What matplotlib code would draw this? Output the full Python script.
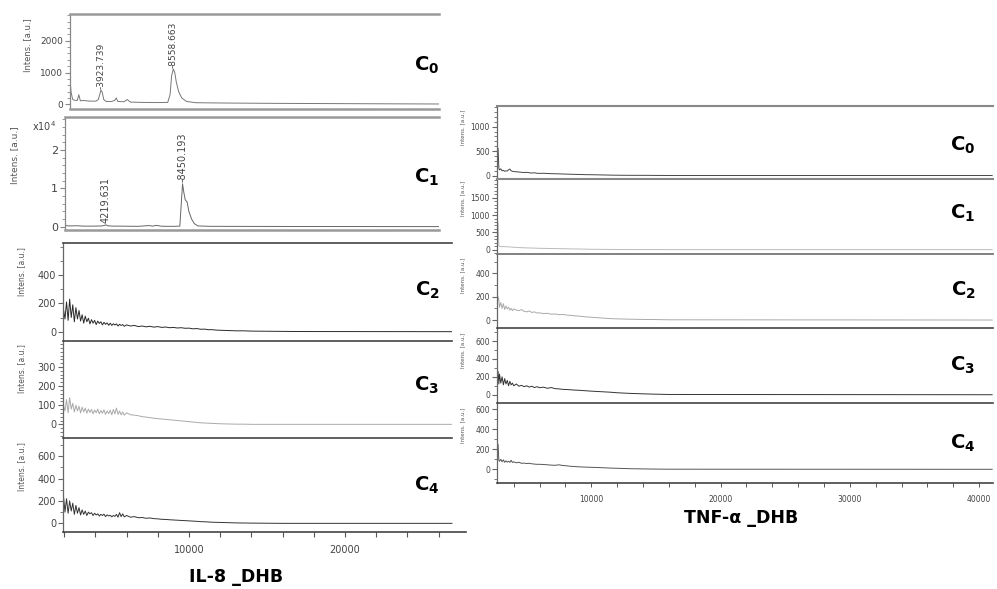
##############################################################################################
# MALDI spectra of IL-8 and TNF-alpha (DHB matrix), five concentrations each
import matplotlib
matplotlib.use('Agg')
import matplotlib.pyplot as plt
from matplotlib.ticker import MultipleLocator, FuncFormatter

##############################################################################################
# Data (m/z, intensity in a.u.)

# IL-8 C0 spectrum
il8_c0_mz = [1936, 2000, 2100, 2200, 2400, 2500, 2600, 2800, 3200, 3600,
             3750, 3850, 3923, 4000, 4100, 4250, 4600, 4800, 4900, 5000,
             5400, 5600, 5800, 6500, 7500, 8200, 8350, 8450, 8558, 8650,
             8750, 8900, 9100, 9400, 10000, 12000, 15000, 20000, 25590]
il8_c0 = [830, 400, 160, 130, 120, 300, 110, 120, 100, 100,
          150, 320, 450, 380, 150, 90, 90, 120, 200, 90,
          80, 150, 70, 60, 55, 60, 300, 900, 1110, 1000,
          700, 400, 200, 90, 50, 40, 30, 20, 10]

# IL-8 C1 spectrum
il8_c1_mz = [1956, 2200, 2600, 3000, 3500, 4000, 4150, 4219, 4300, 4600,
             5000, 5500, 6000, 6600, 6800, 7000, 7300, 7600, 8000, 8300,
             8380, 8450, 8520, 8600, 8700, 8800, 8950, 9100, 9300, 10000,
             12000, 16000, 22620]
il8_c1 = [300, 200, 250, 150, 150, 200, 350, 500, 250, 150,
          150, 120, 100, 300, 150, 350, 120, 100, 100, 150,
          6000, 11200, 9000, 7000, 6500, 4000, 2000, 800, 200, 100,
          80, 50, 30]

# IL-8 C2..C4 share one m/z grid
il8_mz = [1950, 2050, 2150, 2250, 2350, 2450, 2550, 2650, 2750, 2850,
          2950, 3050, 3150, 3250, 3350, 3450, 3550, 3650, 3750, 3850,
          3950, 4050, 4150, 4250, 4350, 4450, 4550, 4650, 4750, 4850,
          4950, 5050, 5150, 5250, 5350, 5450, 5550, 5650, 5750, 5850,
          6000, 6250, 6500, 6750, 7000, 7250, 7500, 7750, 8000, 8250,
          8500, 8750, 9000, 9250, 9500, 9750, 10000, 10250, 10500, 10750,
          11000, 11250, 11500, 11750, 12000, 12500, 13000, 13500, 14000, 15000,
          16000, 17000, 26860]
il8_c2 = [160, 90, 210, 80, 230, 100, 190, 70, 170, 90,
          150, 75, 120, 60, 110, 70, 95, 55, 85, 60,
          80, 50, 75, 58, 70, 48, 66, 52, 62, 45,
          60, 44, 56, 47, 55, 40, 52, 44, 50, 38,
          48, 40, 44, 36, 40, 34, 38, 32, 36, 30,
          33, 28, 30, 26, 28, 24, 25, 20, 22, 17,
          18, 14, 14, 11, 10, 8, 6, 6, 4, 3,
          2, 1, 0]
il8_c3 = [100, 70, 130, 60, 140, 80, 110, 65, 100, 70,
          95, 60, 90, 65, 85, 58, 80, 62, 78, 55,
          75, 60, 80, 55, 72, 58, 76, 52, 70, 56,
          74, 50, 78, 55, 85, 52, 70, 50, 65, 48,
          60, 50, 48, 45, 40, 38, 35, 32, 30, 28,
          26, 24, 22, 20, 18, 16, 14, 12, 10, 8,
          7, 6, 5, 4, 3, 2, 1, 1, 0, 0,
          0, 0, 0]
il8_c4 = [250, 100, 220, 90, 200, 110, 180, 80, 160, 90,
          140, 75, 120, 80, 110, 70, 100, 85, 95, 70,
          90, 75, 85, 65, 80, 70, 82, 60, 76, 66,
          72, 58, 70, 62, 80, 55, 95, 60, 85, 58,
          70, 55, 60, 50, 52, 45, 48, 42, 40, 36,
          35, 32, 30, 28, 26, 24, 22, 20, 18, 15,
          14, 12, 10, 9, 8, 6, 4, 3, 2, 1,
          0, 0, 0]

# TNF-alpha C0..C4 share one m/z grid
tnf_mz = [2720, 2790, 2850, 2900, 3000, 3100, 3200, 3300, 3400, 3500,
          3600, 3700, 3800, 3900, 4000, 4200, 4400, 4600, 4800, 5000,
          5200, 5400, 5600, 5800, 6000, 6300, 6600, 6900, 7200, 7500,
          7800, 8100, 8400, 8700, 9000, 9500, 10000, 10500, 11000, 11500,
          12000, 13000, 14000, 15000, 16000, 41000]
tnf_c0 = [200, 560, 150, 120, 140, 100, 110, 90, 100, 95,
          120, 135, 100, 90, 85, 80, 75, 70, 65, 70,
          60, 55, 60, 50, 48, 50, 45, 42, 40, 38,
          35, 33, 30, 28, 26, 22, 20, 18, 15, 12,
          10, 8, 8, 6, 5, 5]
tnf_c1 = [300, 780, 110, 90, 100, 80, 95, 85, 90, 80,
          85, 75, 80, 70, 72, 65, 60, 58, 55, 52,
          50, 48, 45, 42, 40, 38, 36, 34, 32, 30,
          28, 26, 24, 22, 20, 16, 12, 10, 8, 6,
          5, 4, 3, 3, 2, 2]
tnf_c2 = [120, 200, 170, 110, 150, 100, 140, 90, 120, 95,
          110, 85, 100, 80, 95, 85, 80, 90, 75, 70,
          78, 65, 70, 60, 62, 55, 58, 50, 52, 46,
          48, 42, 40, 36, 34, 28, 24, 20, 16, 12,
          10, 7, 5, 4, 2, 0]
tnf_c3 = [180, 260, 120, 230, 130, 200, 110, 180, 120, 160,
          100, 150, 110, 130, 100, 120, 95, 105, 90, 100,
          85, 95, 80, 90, 78, 85, 72, 80, 68, 65,
          60, 58, 55, 52, 50, 45, 40, 36, 32, 28,
          22, 15, 10, 6, 3, 0]
tnf_c4 = [150, 250, 90, 80, 100, 75, 95, 70, 85, 72,
          80, 70, 90, 68, 75, 65, 70, 60, 62, 58,
          60, 55, 52, 50, 50, 48, 45, 42, 40, 45,
          38, 35, 30, 28, 25, 22, 20, 18, 15, 12,
          10, 6, 4, 2, 1, 0]

# labelled peaks
il8_c0_peaks = [(3923, 450, '-3923.739'), (8558, 1110, '-8558.663')]
il8_c1_peaks = [(4219, 500, '4219.631'), (8450, 11200, '-8450.193')]

# y tick values per panel
il8_yticks = [[0, 1000, 2000], [0, 10000, 20000], [0, 200, 400], [0, 100, 200, 300], [0, 200, 400, 600]]
tnf_yticks = [[0, 500, 1000], [0, 500, 1000, 1500], [0, 200, 400], [0, 200, 400, 600], [0, 200, 400, 600]]
il8_xticks = [10000, 20000]
tnf_xticks = [10000, 20000, 30000, 40000]
panel_names = ['0', '1', '2', '3', '4']

##############################################################################################
W, H = 997, 589
fig = plt.figure(figsize=(W / 100.0, H / 100.0), dpi=100)
fig.patch.set_facecolor('white')


def box(l, t, r, b):
    return [l / W, 1 - b / H, (r - l) / W, (b - t) / H]


def ftext(x, y, s, **kw):
    return fig.text(x / W, 1 - y / H, s, **kw)


def panel(rect, mz, inten, color, xlim, ylim, yticks, yminor, tsize,
          top_col='#444', top_lw=1.2, left_col='#666', bottom=False, bot_col='#999'):
    ax = fig.add_axes(box(*rect))
    ax.patch.set_alpha(0)
    ax.plot(mz, inten, color=color, lw=0.7)
    ax.set_xlim(xlim)
    ax.set_ylim(ylim)
    ax.spines['right'].set_visible(False)
    ax.spines['top'].set_color(top_col)
    ax.spines['top'].set_linewidth(top_lw)
    ax.spines['left'].set_color(left_col)
    ax.spines['left'].set_linewidth(0.9)
    ax.spines['bottom'].set_visible(bottom)
    ax.spines['bottom'].set_color(bot_col)
    ax.spines['bottom'].set_linewidth(top_lw)
    ax.set_yticks(yticks)
    ax.yaxis.set_minor_locator(MultipleLocator(yminor))
    ax.tick_params(axis='y', which='major', direction='out', length=3.5, width=0.8,
                   color=left_col, labelcolor='#444', labelsize=tsize, pad=1.5)
    ax.tick_params(axis='y', which='minor', direction='out', length=2, width=0.6, color=left_col)
    ax.set_xticks([])
    return ax

##############################################################################################
# IL-8 column
l0 = panel((70, 14, 439, 108.7), il8_c0_mz, il8_c0, '#777', (1936, 25590), (-138, 2840),
           il8_yticks[0], 200, 6.5, top_col='#999', top_lw=1.8, left_col='#888', bottom=True)
l1 = panel((65, 117.3, 439, 230), il8_c1_mz, il8_c1, '#666', (1956, 22620), (-860, 28560),
           il8_yticks[1], 2000, 8, top_col='#999', top_lw=1.8, left_col='#888', bottom=True)
l1.yaxis.set_major_formatter(FuncFormatter(lambda v, p: '%d' % round(v / 10000.0)))
l2 = panel((63, 243.3, 452, 341), il8_mz, il8_c2, '#2a2a2a', (1923, 26860), (-66, 625),
           il8_yticks[2], 100, 7)
l3 = panel((63, 341, 452, 438.3), il8_mz, il8_c3, '#aaaaaa', (1923, 26860), (-73, 436),
           il8_yticks[3], 20, 7)
l4 = panel((63, 438.3, 466, 532.3), il8_mz, il8_c4, '#333333', (1923, 27760), (-80, 759),
           il8_yticks[4], 100, 7, bottom=True, bot_col='#444')
l4.spines['top'].set_bounds(1923, 26860)
l4.set_xticks(il8_xticks)
l4.xaxis.set_minor_locator(MultipleLocator(2000))
l4.tick_params(axis='x', which='both', direction='out', length=3.5, width=0.8,
               color='#555', labelcolor='#444', labelsize=7, pad=6)

for ax, peaks, fs in [(l0, il8_c0_peaks, 6.5), (l1, il8_c1_peaks, 7)]:
    for mz, top, lab in peaks:
        ax.annotate(lab, (mz, top), xytext=(0, 1), textcoords='offset points',
                    rotation=90, ha='center', va='bottom', fontsize=fs, color='#444')

ftext(44, 126, r'x10$^4$', fontsize=7, color='#444', ha='center', va='center')

il8_ylab = [(28, 45, 6), (15, 155, 6.5), (22, 272, 5.5), (22, 369, 5.5), (22, 467, 5.5)]
for x, y, fs in il8_ylab:
    ftext(x, y, 'Intens. [a.u.]', rotation=90, fontsize=fs, color='#555', ha='center', va='center')

il8_lab_y = [65, 177, 290, 385, 485]
for name, y in zip(panel_names, il8_lab_y):
    ftext(427, y, r'$\mathbf{C_{%s}}$' % name, fontsize=14, color='black', ha='center', va='center')

ftext(236, 577, 'IL-8 _DHB', fontsize=12.5, fontweight='bold', ha='center', va='center')

##############################################################################################
# TNF-alpha column
txl = (2707, 41067)
r0 = panel((497, 105.7, 993, 179), tnf_mz, tnf_c0, '#444444', txl, (-67, 1428),
           tnf_yticks[0], 100, 5.5, top_col='#888', top_lw=1.5)
r1 = panel((497, 179, 993, 253.7), tnf_mz, tnf_c1, '#bbbbbb', txl, (-116, 2043),
           tnf_yticks[1], 100, 5.5, top_col='#888', top_lw=1.5)
r2 = panel((497, 253.7, 993, 328.3), tnf_mz, tnf_c2, '#aaaaaa', txl, (-71, 569),
           tnf_yticks[2], 100, 5.5, top_col='#777', top_lw=1.3)
r3 = panel((497, 328.3, 993, 402.7), tnf_mz, tnf_c3, '#333333', txl, (-89, 742),
           tnf_yticks[3], 100, 5.5)
r4 = panel((497, 402.7, 993, 483), tnf_mz, tnf_c4, '#555555', txl, (-137, 666),
           tnf_yticks[4], 100, 5.5, bottom=True, bot_col='#444')
r4.set_xticks(tnf_xticks)
r4.xaxis.set_minor_locator(MultipleLocator(2000))
r4.tick_params(axis='x', which='both', direction='out', length=3, width=0.7,
               color='#555', labelcolor='#444', labelsize=5.5, pad=6)

tnf_ylab = [127, 198, 275, 350, 425]
for y in tnf_ylab:
    ftext(463, y, 'Intens. [a.u.]', rotation=90, fontsize=4, color='#555', ha='center', va='center')

tnf_lab_y = [145, 213, 290, 365, 443]
for name, y in zip(panel_names, tnf_lab_y):
    ftext(963, y, r'$\mathbf{C_{%s}}$' % name, fontsize=14, color='black', ha='center', va='center')

ftext(741, 518, u'TNF-\u03b1 _DHB', fontsize=12.5, fontweight='bold', ha='center', va='center')

plt.savefig('out.png', dpi=100, facecolor='white')
plt.close()
